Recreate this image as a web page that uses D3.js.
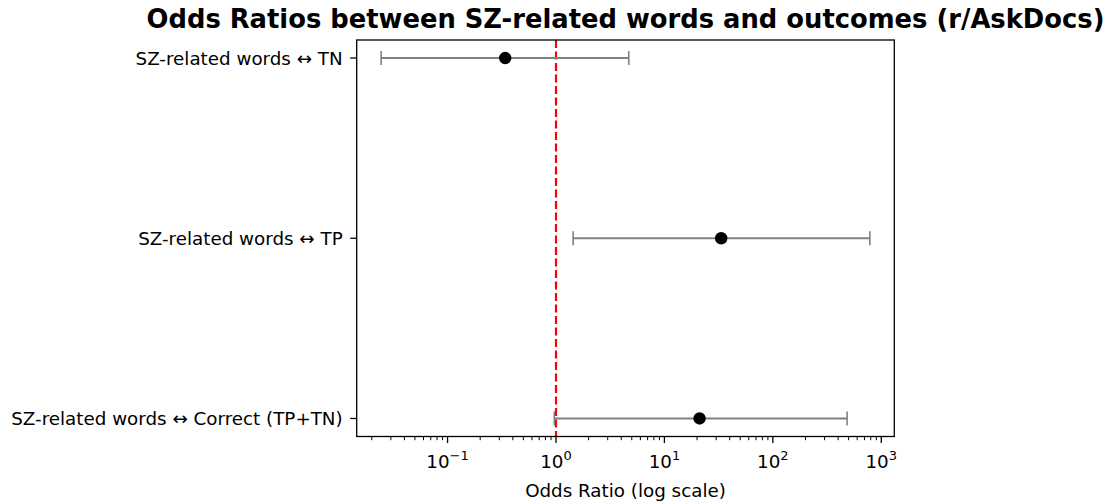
<!DOCTYPE html>
<html>
<head>
<meta charset="utf-8">
<script src="https://cdn.jsdelivr.net/npm/d3@7"></script>
<style>
  html, body { margin: 0; padding: 0; background: #fff; }
  svg { display: block; font-family: "DejaVu Sans", sans-serif; }
</style>
</head>
<body>
<svg id="chart" width="1106" height="502"></svg>
<script>
// Data (top-to-bottom order as displayed)
const categories = ["SZ-related words \u2194 TN", "SZ-related words \u2194 TP", "SZ-related words \u2194 Correct (TP+TN)"];
const oddsRatio = [0.34, 33.4, 21.1];
const ciLow = [0.0244, 1.44, 0.965];
const ciHigh = [4.69, 785, 484];
const majorTickExps = [-1, 0, 1, 2, 3];
const titleText = "Odds Ratios between SZ-related words and outcomes (r/AskDocs)";
const xLabelText = "Odds Ratio (log scale)";
const referenceLine = 1;

(function () {
const svg = d3.select("#chart");
const pL = 356.7, pR = 894.3, pT = 40, pB = 436.5;
const fs = 18.3;

// log domain with matplotlib-like 5% margins
const lo = Math.log10(d3.min(ciLow)), hi = Math.log10(d3.max(ciHigh));
const span = hi - lo;
const x = d3.scaleLog().domain([Math.pow(10, lo - 0.05 * span), Math.pow(10, hi + 0.05 * span)]).range([pL, pR]);
const y = d3.scalePoint().domain(categories).range([pT, pB]).padding(0.1);

const g = svg.append("g");
const rows = categories.map((c, i) => ({c, or: oddsRatio[i], lo: ciLow[i], hi: ciHigh[i]}));
const cap = 7;
g.selectAll("line.err").data(rows).join("line").attr("class", "err")
  .attr("x1", d => x(d.lo)).attr("x2", d => x(d.hi))
  .attr("y1", d => y(d.c)).attr("y2", d => y(d.c))
  .attr("stroke", "#808080").attr("stroke-width", 2.2);
g.selectAll("line.capl").data(rows).join("line").attr("class", "capl")
  .attr("x1", d => x(d.lo)).attr("x2", d => x(d.lo))
  .attr("y1", d => y(d.c) - cap).attr("y2", d => y(d.c) + cap)
  .attr("stroke", "#808080").attr("stroke-width", 1.6);
g.selectAll("line.caph").data(rows).join("line").attr("class", "caph")
  .attr("x1", d => x(d.hi)).attr("x2", d => x(d.hi))
  .attr("y1", d => y(d.c) - cap).attr("y2", d => y(d.c) + cap)
  .attr("stroke", "#808080").attr("stroke-width", 1.6);

// Reference line
svg.append("line")
  .attr("x1", x(referenceLine)).attr("x2", x(referenceLine))
  .attr("y1", pT).attr("y2", pB)
  .attr("stroke", "red").attr("stroke-width", 2.2).attr("stroke-dasharray", "8,3.5");

// Points
g.selectAll("circle").data(rows).join("circle")
  .attr("cx", d => x(d.or)).attr("cy", d => y(d.c)).attr("r", 6.2)
  .attr("fill", "black");
g.raise();

// Frame
svg.append("rect").attr("x", pL).attr("y", pT).attr("width", pR - pL).attr("height", pB - pT)
  .attr("fill", "none").attr("stroke", "black").attr("stroke-width", 1.3);

// Y axis ticks + labels
const ya = svg.append("g");
categories.forEach(c => {
  ya.append("line").attr("x1", pL - 6.5).attr("x2", pL).attr("y1", y(c)).attr("y2", y(c))
    .attr("stroke", "black").attr("stroke-width", 1.3);
  ya.append("text").attr("x", pL - 14).attr("y", y(c)).attr("dy", "0.36em")
    .attr("text-anchor", "end").attr("font-size", fs + "px").attr("fill", "#000").text(c);
});

// X axis major ticks
const xa = svg.append("g");
majorTickExps.forEach(e => {
  const v = Math.pow(10, e), px = x(v);
  xa.append("line").attr("x1", px).attr("x2", px).attr("y1", pB).attr("y2", pB + 6.5)
    .attr("stroke", "black").attr("stroke-width", 1.3);
  const t = xa.append("text").attr("x", px).attr("y", 467.5).attr("text-anchor", "middle")
    .attr("font-size", fs + "px").attr("fill", "#000");
  t.append("tspan").text("10");
  t.append("tspan").attr("dy", "-8").attr("font-size", "13px").text(e < 0 ? "\u2212" + (-e) : String(e));
});
// Minor ticks
const [d0, d1] = x.domain();
for (let e = Math.floor(Math.log10(d0)); e <= Math.ceil(Math.log10(d1)); e++) {
  for (let m = 2; m <= 9; m++) {
    const v = m * Math.pow(10, e);
    if (v < d0 || v > d1) continue;
    const px = x(v);
    xa.append("line").attr("x1", px).attr("x2", px).attr("y1", pB).attr("y2", pB + 3.7)
      .attr("stroke", "black").attr("stroke-width", 1);
  }
}

// X label
svg.append("text").attr("x", (pL + pR) / 2).attr("y", 497).attr("text-anchor", "middle")
  .attr("font-size", fs + "px").attr("fill", "#000").text(xLabelText);

// Title
svg.append("text").attr("x", (pL + pR) / 2).attr("y", 28).attr("text-anchor", "middle")
  .attr("font-size", "25.8px").attr("font-weight", "bold").attr("fill", "#000").text(titleText);
})();
</script>
</body>
</html>
